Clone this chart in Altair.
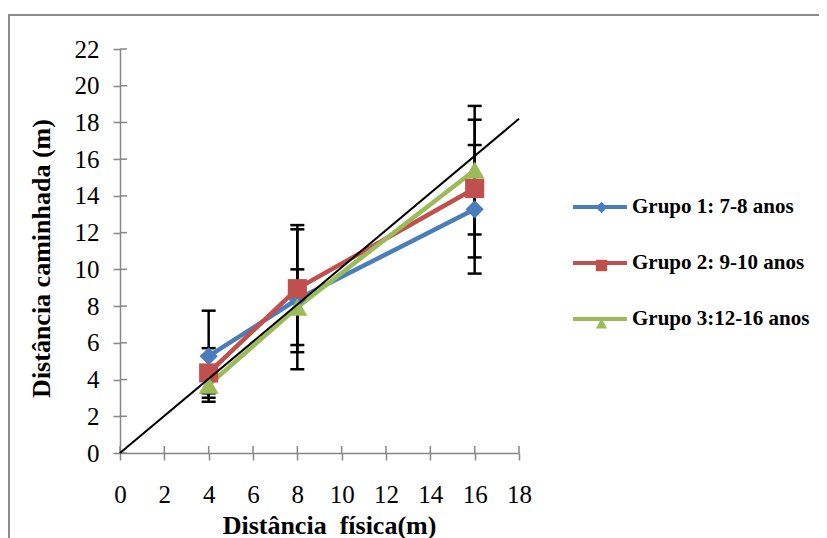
import altair as alt
import pandas as pd

# ---------------- data ----------------
distancia = [4, 8, 16]
grupos = ["Grupo 1: 7-8 anos", "Grupo 2: 9-10 anos", "Grupo 3:12-16 anos"]
g1 = [5.27, 8.37, 13.27]
g2 = [4.36, 8.95, 14.40]
g3 = [3.70, 7.94, 15.40]
sd1 = [2.48, 3.81, 3.50]
sd2 = [1.35, 3.46, 3.75]
sd3 = [0.45, 2.06, 3.50]
ref_x = [0, 18]
ref_y = [0, 18.2]
x_ticks = list(range(0, 19, 2))
y_ticks = list(range(0, 23, 2))
cores = ["#4A7EBB", "#C0504D", "#9BBB59"]
formas = ["diamond", "square", "triangle-up"]
tamanhos = [330, 400, 450]

rows = []
for g, vals, sds in zip(grupos, [g1, g2, g3], [sd1, sd2, sd3]):
    for x, y, s in zip(distancia, vals, sds):
        rows.append({"grupo": g, "dist": x, "valor": y, "lo": y - s, "hi": y + s})
df = pd.DataFrame(rows)
caps = pd.concat([df.assign(cap=df["lo"]), df.assign(cap=df["hi"])], ignore_index=True)
ref = pd.DataFrame({"dist": ref_x, "valor": ref_y})
xt = pd.DataFrame({"t": x_ticks})
yt = pd.DataFrame({"t": y_ticks})

W, H = 399, 404
FONT = "Liberation Serif"
GRAY = "#868686"
NB = "\u00a0"

xs = alt.Scale(domain=[0, 18], nice=False, zero=False)
ys = alt.Scale(domain=[0, 22], nice=False, zero=False)
x_axis = alt.Axis(values=x_ticks, title="Distância" + NB + NB + "física(m)", labelPadding=22,
                  labelFlush=False, labelOverlap=False,
                  titleX=209, titleY=72, titleBaseline="middle", titleAlign="center")
y_axis = alt.Axis(values=y_ticks, title="Distância caminhada (m)", labelPadding=14,
                  labelFlush=False, labelOverlap=False,
                  titleX=-79, titleY=209, titleBaseline="middle", titleAlign="center",
                  titleAngle=270)


def X(f):
    return alt.X(f, type="quantitative", scale=xs, axis=x_axis)


def Y(f):
    return alt.Y(f, type="quantitative", scale=ys, axis=y_axis)


color_scale = alt.Scale(domain=grupos, range=cores)

frame = alt.Chart(pd.DataFrame({"k": [0]})).mark_rect(
    fillOpacity=0, stroke="#8c8c8c", strokeWidth=2
).encode(x=alt.value(-111), x2=alt.value(900), y=alt.value(-34), y2=alt.value(700))

xin = alt.Chart(xt).mark_rule(color=GRAY, strokeWidth=1.5).encode(
    x=X("t"), y=alt.value(H - 7), y2=alt.value(H))
yin = alt.Chart(yt).mark_rule(color=GRAY, strokeWidth=1.5).encode(
    y=Y("t"), x=alt.value(0), x2=alt.value(7))

err = alt.Chart(df).mark_rule(color="black", strokeWidth=2.5).encode(
    x=X("dist"), y=Y("lo"), y2="hi")
cap = alt.Chart(caps).mark_tick(color="black", orient="horizontal", size=14,
                                thickness=2.5, opacity=1).encode(x=X("dist"), y=Y("cap"))

lines = alt.Chart(df).mark_line(strokeWidth=4.5).encode(
    x=X("dist"), y=Y("valor"),
    color=alt.Color("grupo:N", scale=color_scale, sort=grupos,
                    legend=alt.Legend(orient="none", legendX=451, legendY=129, title=None,
                                      symbolType="stroke", symbolSize=2916,
                                      symbolStrokeWidth=4, labelFont=FONT,
                                      labelFontSize=21, labelFontWeight="bold",
                                      labelColor="black", labelOffset=3, labelLimit=0,
                                      rowPadding=17, padding=0)),
    detail="grupo:N")

pt_legend = alt.Legend(orient="none", legendX=471, legendY=148, title=None,
                       symbolSize=130, labelFont=FONT, labelFontSize=21,
                       labelExpr="''", labelLimit=0, rowPadding=36,
                       padding=0, symbolOpacity=1)
points = alt.Chart(df).mark_point(filled=True, opacity=1).encode(
    x=X("dist"), y=Y("valor"),
    color=alt.Color("grupo:N", scale=color_scale, sort=grupos, legend=pt_legend),
    shape=alt.Shape("grupo:N", scale=alt.Scale(domain=grupos, range=formas),
                    sort=grupos, legend=pt_legend),
    size=alt.Size("grupo:N", scale=alt.Scale(domain=grupos, range=tamanhos), legend=None))

refline = alt.Chart(ref).mark_line(color="black", strokeWidth=2).encode(
    x=X("dist"), y=Y("valor"))

chart = alt.layer(frame, xin, yin, err, cap, lines, points, refline).resolve_legend(
    color="independent", shape="independent"
).properties(
    width=W, height=H,
    autosize=alt.AutoSizeParams(type="none"),
    padding={"left": 112, "top": 41, "right": 300, "bottom": 85},
).configure_view(stroke=None).configure_axis(
    grid=False, labelFont=FONT, labelFontSize=25, labelColor="black",
    titleFont=FONT, titleFontSize=26, titleFontWeight="bold", titleColor="black",
    domainColor=GRAY, domainWidth=1.5, tickColor=GRAY, tickWidth=1.5, tickSize=7,
)

chart.save("out.html", embed_options={"renderer": "svg", "actions": False})
